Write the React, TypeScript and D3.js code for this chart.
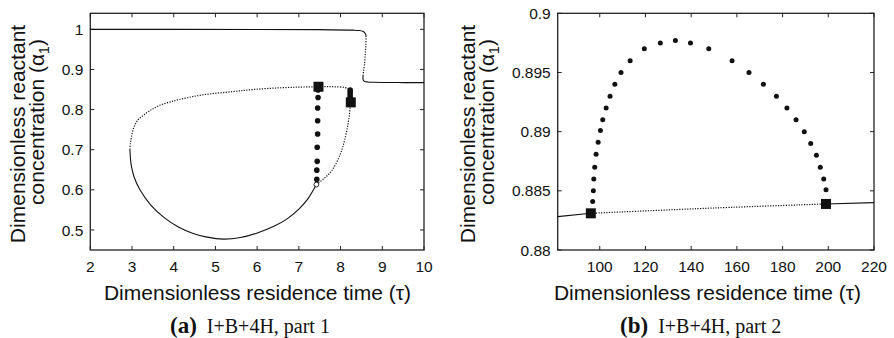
import React from 'react';
import * as d3 from 'd3';

type P = [number, number];

// ---------- Panel (a) data ----------
const aXTicks = [2, 3, 4, 5, 6, 7, 8, 9, 10];
const aYTicks = [0.5, 0.6, 0.7, 0.8, 0.9, 1];

const aUpperStable: P[] = [
  [2, 1.0], [6, 0.9998], [7.5, 0.9993], [8.3, 0.998], [8.45, 0.997], [8.53, 0.995],
  [8.575, 0.992], [8.6, 0.988], [8.61, 0.984],
];
const aUpperUnstable: P[] = [
  [8.61, 0.984], [8.605, 0.96], [8.59, 0.935], [8.57, 0.91], [8.55, 0.895], [8.537, 0.884],
];
const aLowerStable: P[] = [
  [8.537, 0.884], [8.537, 0.878], [8.545, 0.873], [8.575, 0.8703], [8.65, 0.8688], [8.8, 0.868],
  [9.5, 0.8673], [10, 0.8672],
];
const aIsolaStable: P[] = [
  [2.95, 0.7], [2.98, 0.662], [3.05, 0.632], [3.19, 0.6], [3.45, 0.562], [3.78, 0.53],
  [4.1, 0.508], [4.45, 0.492], [4.8, 0.482], [5.19, 0.477], [5.6, 0.481], [5.99, 0.492],
  [6.4, 0.509], [6.71, 0.527], [7.0, 0.552], [7.22, 0.578], [7.42, 0.613],
];
const aIsolaUnstable: P[] = [
  [7.42, 0.613], [7.6, 0.628], [7.79, 0.648], [7.99, 0.688], [8.1, 0.725], [8.19, 0.771],
  [8.235, 0.81], [8.25, 0.83], [8.24, 0.845], [8.2, 0.851], [8.1, 0.855], [7.8, 0.857],
  [7.47, 0.857], [7.0, 0.856], [6.5, 0.854], [5.9, 0.85], [5.43, 0.845], [4.71, 0.837],
  [4.3, 0.829], [3.95, 0.82], [3.65, 0.81], [3.47, 0.8], [3.3, 0.788], [3.15, 0.775],
  [3.05, 0.757], [2.99, 0.734], [2.96, 0.715], [2.95, 0.7],
];
const aOrbitTau = [7.46, 7.46, 7.45, 7.45, 7.45, 7.44, 7.44, 7.43, 7.43, 8.23, 8.23, 8.23, 8.23, 8.23];
const aOrbitAlpha = [0.849, 0.83, 0.804, 0.772, 0.739, 0.706, 0.671, 0.649, 0.626, 0.849, 0.843, 0.837, 0.831, 0.826];
const aSquares: P[] = [[7.47, 0.857], [8.245, 0.818]];
const aHopf: P[] = [[7.42, 0.613]];

// ---------- Panel (b) data ----------
const bXTicks = [100, 120, 140, 160, 180, 200, 220];
const bYTicks = [0.88, 0.885, 0.89, 0.895, 0.9];
const bLeftStable: P[] = [[81.6, 0.88282], [96.1, 0.8831]];
const bUnstable: P[] = [[96.1, 0.8831], [150, 0.88355], [199, 0.88389]];
const bRightStable: P[] = [[199, 0.88389], [220, 0.884]];
const bOrbitTau = [
  96.9, 97.2, 97.4, 97.8, 98.4, 99.3, 100.3, 101.3, 102.8, 104.5, 106.6, 109.3, 113.3, 119.5,
  126.5, 133.1, 139.7, 147.7, 157.9, 165.3, 171.6, 177.3, 181.9, 185.9, 189.5, 192.3, 194.8,
  196.5, 198.0, 199.0,
];
const bOrbitAlpha = [
  0.8841, 0.885, 0.886, 0.887, 0.8881, 0.8891, 0.8901, 0.891, 0.892, 0.893, 0.894, 0.895,
  0.896, 0.897, 0.8975, 0.8977, 0.8975, 0.897, 0.896, 0.895, 0.894, 0.893, 0.892, 0.891,
  0.89, 0.889, 0.888, 0.887, 0.886, 0.8851,
];
const bSquares: P[] = [[96.1, 0.8831], [199, 0.88389]];

const SANS = '"Liberation Sans", Arial, Helvetica, sans-serif';
const SERIF = '"Liberation Serif", "Times New Roman", serif';
const INK = '#111';

interface PanelProps {
  x: d3.ScaleLinear<number, number>;
  y: d3.ScaleLinear<number, number>;
  xTicks: number[];
  yTicks: number[];
  dx: number;
  label: string;
  caption: string;
  children?: React.ReactNode;
}

const fmt = d3.format('~g');

function Panel({ x, y, xTicks, yTicks, dx, label, caption, children }: PanelProps) {
  const [x0, x1] = x.range();
  const [y0, y1] = y.range(); // y0 bottom, y1 top
  const tl = 4;
  return (
    <g>
      <rect x={x0} y={y1} width={x1 - x0} height={y0 - y1} fill="none" stroke="#222" strokeWidth={1.3} />
      {xTicks.map((t) => (
        <g key={'xt' + t}>
          <line x1={x(t)} x2={x(t)} y1={y0} y2={y0 - tl} stroke="#222" strokeWidth={1} />
          <line x1={x(t)} x2={x(t)} y1={y1} y2={y1 + tl} stroke="#222" strokeWidth={1} />
          <text x={x(t)} y={272} textAnchor="middle" fontFamily={SANS} fontSize={15.5} fill={INK}>
            {fmt(t)}
          </text>
        </g>
      ))}
      {yTicks.map((t) => (
        <g key={'yt' + t}>
          <line x1={x0} x2={x0 + tl} y1={y(t)} y2={y(t)} stroke="#222" strokeWidth={1} />
          <line x1={x1} x2={x1 - tl} y1={y(t)} y2={y(t)} stroke="#222" strokeWidth={1} />
          <text x={x0 - 7} y={y(t)} dy="0.36em" textAnchor="end" fontFamily={SANS} fontSize={15.5} fill={INK}>
            {fmt(t)}
          </text>
        </g>
      ))}
      {children}
      <text x={dx + 257.5} y={300} textAnchor="middle" fontFamily={SANS} fontSize={21} fill={INK}>
        Dimensionless residence time (τ)
      </text>
      <text transform={`translate(${dx + 25},134) rotate(-90)`} textAnchor="middle" fontFamily={SANS} fontSize={21} fill={INK}>
        Dimensionless reactant
      </text>
      <text transform={`translate(${dx + 44},122) rotate(-90)`} textAnchor="middle" fontFamily={SANS} fontSize={21} fill={INK}>
        concentration (α<tspan fontSize={14} dy={5}>1</tspan><tspan dy={-5}>)</tspan>
      </text>
      <text x={dx + 170} y={333} fontFamily={SERIF} fill={INK}>
        <tspan fontWeight="bold" fontSize={23}>{label}</tspan>
        <tspan dx={10} fontSize={20}>{caption}</tspan>
      </text>
    </g>
  );
}

export default function App() {
  const xa = d3.scaleLinear().domain([2, 10]).range([90.3, 424]);
  const ya = d3.scaleLinear().domain([0.45, 1.04]).range([250, 13.3]);
  const xb = d3.scaleLinear().domain([81.6, 220]).range([557.7, 874]);
  const yb = d3.scaleLinear().domain([0.88, 0.9]).range([250, 13.3]);

  const la = d3.line<P>().x((d) => xa(d[0])).y((d) => ya(d[1])).curve(d3.curveCatmullRom.alpha(0.5));
  const lb = d3.line<P>().x((d) => xb(d[0])).y((d) => yb(d[1])).curve(d3.curveCatmullRom.alpha(0.5));

  const solid = { fill: 'none', stroke: INK, strokeWidth: 1.1 };
  const dotted = { fill: 'none', stroke: INK, strokeWidth: 1.2, strokeDasharray: '1.2,1.4' };
  const sq = 10;

  return (
    <svg width={894} height={338} style={{ position: 'absolute', left: 0, top: 0, background: '#fff' }}>
      <rect width={894} height={338} fill="#fff" />
      <Panel x={xa} y={ya} xTicks={aXTicks} yTicks={aYTicks} dx={0} label="(a)" caption="I+B+4H, part 1">
        <path d={la(aUpperStable) || ''} {...solid} />
        <path d={la(aUpperUnstable) || ''} {...dotted} />
        <path d={la(aLowerStable) || ''} {...solid} />
        <path d={la(aIsolaStable) || ''} {...solid} />
        <path d={la(aIsolaUnstable) || ''} {...dotted} />
        {aOrbitTau.map((t, i) => (
          <circle key={'ao' + i} cx={xa(t)} cy={ya(aOrbitAlpha[i])} r={2.8} fill={INK} />
        ))}
        {aSquares.map((d, i) => (
          <rect key={'as' + i} x={xa(d[0]) - sq / 2} y={ya(d[1]) - sq / 2} width={sq} height={sq} fill={INK} />
        ))}
        {aHopf.map((d, i) => (
          <circle key={'ah' + i} cx={xa(d[0])} cy={ya(d[1])} r={2.4} fill="#fff" stroke={INK} strokeWidth={0.9} />
        ))}
      </Panel>
      <Panel x={xb} y={yb} xTicks={bXTicks} yTicks={bYTicks} dx={450} label="(b)" caption="I+B+4H, part 2">
        <path d={lb(bLeftStable) || ''} {...solid} />
        <path d={lb(bUnstable) || ''} {...dotted} />
        <path d={lb(bRightStable) || ''} {...solid} />
        {bOrbitTau.map((t, i) => (
          <circle key={'bo' + i} cx={xb(t)} cy={yb(bOrbitAlpha[i])} r={2.5} fill={INK} />
        ))}
        {bSquares.map((d, i) => (
          <rect key={'bs' + i} x={xb(d[0]) - sq / 2} y={yb(d[1]) - sq / 2} width={sq} height={sq} fill={INK} />
        ))}
      </Panel>
    </svg>
  );
}
